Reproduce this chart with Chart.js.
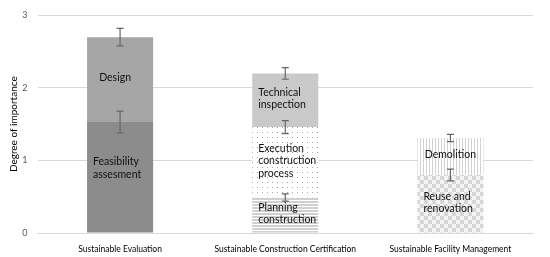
<!DOCTYPE html>
<html>
<head>
<meta charset="utf-8">
<script src="https://cdn.jsdelivr.net/npm/chart.js@4"></script>
<style>
  html, body { margin: 0; padding: 0; background: #fff; }
  .chart { position: relative; width: 550px; height: 257px; }
</style>
</head>
<body>
<div class="chart"><canvas id="myChart"></canvas></div>
<script>
// categories and stacked stage values (degree of importance)
let categories = ['Sustainable Evaluation', 'Sustainable Construction Certification', 'Sustainable Facility Management'];

let stage1 = [1.53, 0.49, 0.80];
let stage2 = [1.17, 0.97, 0.51];
let stage3 = [null, 0.74, null];

// error bar half-widths at the top of each segment
let err1 = [0.15, 0.05, 0.08];
let err2 = [0.12, 0.09, 0.05];
let err3 = [null, 0.08, null];

// segment names
let names1 = ['Feasibility\nassesment', 'Planning\nconstruction', 'Reuse and\nrenovation'];
let names2 = ['Design', 'Execution\nconstruction\nprocess', 'Demolition'];
let names3 = [null, 'Technical\ninspection', null];

let yTicks = [0, 1, 2, 3];

// little fill patterns
function makePattern(type) {
  let c = document.createElement('canvas');
  let g = c.getContext('2d');
  if (type === 'dots') {
    c.width = 5; c.height = 5;
    g.fillStyle = '#fff'; g.fillRect(0, 0, 5, 5);
    g.fillStyle = '#a8a8a8'; g.fillRect(2, 2, 1, 1);
  } else if (type === 'hstripe') {
    c.width = 4; c.height = 3;
    g.fillStyle = '#fff'; g.fillRect(0, 0, 4, 3);
    g.fillStyle = '#cfcfcf'; g.fillRect(0, 0, 4, 2);
  } else if (type === 'checker') {
    c.width = 8; c.height = 8;
    g.fillStyle = '#f4f4f4'; g.fillRect(0, 0, 8, 8);
    g.fillStyle = '#d6d6d6'; g.fillRect(0, 0, 4, 4); g.fillRect(4, 4, 4, 4);
  } else if (type === 'vstripe') {
    c.width = 3; c.height = 4;
    g.fillStyle = '#fff'; g.fillRect(0, 0, 3, 4);
    g.fillStyle = '#d2d2d2'; g.fillRect(0, 0, 1, 4);
  }
  return g.createPattern(c, 'repeat');
}

let fill1 = ['#8c8c8c', makePattern('hstripe'), makePattern('checker')];
let fill2 = ['#a6a6a6', makePattern('dots'), makePattern('vstripe')];
let fill3 = ['#c9c9c9', '#c9c9c9', '#c9c9c9'];

let allErr = [err1, err2, err3];
let allNames = [names1, names2, names3];

// error bars + names inside segments
let barExtras = {
  id: 'barExtras',
  afterDatasetsDraw(chart, args, opts) {
    let ctx = chart.ctx;
    let y = chart.scales.y;
    let sums = [0, 0, 0];
    chart.data.datasets.forEach((ds, i) => {
      let meta = chart.getDatasetMeta(i);
      meta.data.forEach((bar, j) => {
        let v = ds.data[j];
        if (v == null) return;
        let base = sums[j];
        let top = base + v;
        sums[j] = top;

        let name = allNames[i][j];
        if (name) {
          let nudge = opts.nudge[i + ',' + j] || [0, 0];
          let lines = name.split('\n');
          let lh = 12.6;
          let mid = (y.getPixelForValue(base) + y.getPixelForValue(top)) / 2 - 1.5 + nudge[1];
          ctx.save();
          ctx.font = '10.5px Lato';
          ctx.fillStyle = '#111';
          ctx.textBaseline = 'middle';
          let left = bar.x - bar.width / 2;
          if (lines.length === 1) {
            ctx.textAlign = 'center';
            ctx.fillText(lines[0], bar.x + nudge[0], mid);
          } else {
            ctx.textAlign = 'left';
            lines.forEach((t, k) => ctx.fillText(t, left + 6 + nudge[0], mid + (k - (lines.length - 1) / 2) * lh));
          }
          ctx.restore();
        }

        let e = allErr[i][j];
        if (e) {
          let yHi = y.getPixelForValue(top + e);
          let yLo = y.getPixelForValue(top - e);
          ctx.save();
          ctx.strokeStyle = '#666';
          ctx.lineWidth = 1.2;
          ctx.beginPath();
          ctx.moveTo(bar.x, yHi); ctx.lineTo(bar.x, yLo);
          ctx.moveTo(bar.x - 3.5, yHi); ctx.lineTo(bar.x + 3.5, yHi);
          ctx.moveTo(bar.x - 3.5, yLo); ctx.lineTo(bar.x + 3.5, yLo);
          ctx.stroke();
          ctx.restore();
        }
      });
    });
  }
};

let ctx = document.getElementById('myChart').getContext('2d');

let chart = new Chart(ctx, {
  type: 'bar',
  data: {
    labels: categories,
    datasets: [
      { label: 'Stage 1', data: stage1, backgroundColor: fill1 },
      { label: 'Stage 2', data: stage2, backgroundColor: fill2 },
      { label: 'Stage 3', data: stage3, backgroundColor: fill3 }
    ]
  },
  options: {
    responsive: true,
    maintainAspectRatio: false,
    animation: false,
    layout: { padding: { top: 7, right: 17, left: 8, bottom: 0 } },
    datasets: { bar: { categoryPercentage: 1, barPercentage: 0.4 } },
    plugins: {
      legend: { display: false },
      tooltip: { enabled: false },
      barExtras: { nudge: { '0,0': [0, -8], '1,0': [-5, 0] } }
    },
    scales: {
      x: {
        stacked: true,
        grid: { display: false },
        border: { color: '#d9d9d9' },
        ticks: { color: '#000', font: { family: 'Lato', size: 8.5 }, maxRotation: 0, padding: 3 },
        afterFit: s => { s.height = 24; }
      },
      y: {
        stacked: true,
        min: 0,
        max: 3,
        afterBuildTicks: s => { s.ticks = yTicks.map(v => ({ value: v })); },
        grid: { color: '#d9d9d9', drawTicks: false },
        border: { display: false },
        ticks: { color: '#595959', font: { family: 'Lato', size: 9 }, padding: 10 },
        title: { display: true, text: 'Degree of importance', color: '#000', font: { family: 'Lato', size: 10 }, padding: 0 },
        afterFit: s => { s.width = 29.5; }
      }
    }
  },
  plugins: [barExtras]
});
</script>
</body>
</html>
